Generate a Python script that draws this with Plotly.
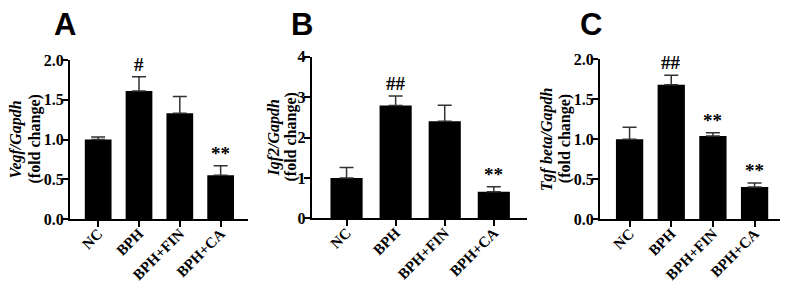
import plotly.graph_objects as go

categories = ["NC", "BPH", "BPH+FIN", "BPH+CA"]

vegf_mean = [1.00, 1.61, 1.33, 0.55]
vegf_err = [0.03, 0.18, 0.21, 0.12]
vegf_marks = ["", "#", "", "**"]

igf2_mean = [1.00, 2.79, 2.40, 0.66]
igf2_err = [0.26, 0.24, 0.40, 0.12]
igf2_marks = ["", "##", "", "**"]

tgfb_mean = [1.00, 1.68, 1.04, 0.40]
tgfb_err = [0.15, 0.12, 0.04, 0.05]
tgfb_marks = ["", "##", "**", "**"]

panels = [
    dict(letter="A", mean=vegf_mean, err=vegf_err, marks=vegf_marks,
         gene="Vegf/Gapdh",
         yrange=[0, 2.0], tickvals=[0, 0.5, 1.0, 1.5, 2.0],
         ticktext=["0.0", "0.5", "1.0", "1.5", "2.0"],
         xdom=[70/790, 248/790], ydom=[1-219/285, 1-60/285],
         xrange=[-0.69, 3.67], titlex=(15, 34), letterx=65),
    dict(letter="B", mean=igf2_mean, err=igf2_err, marks=igf2_marks,
         gene="Igf2/Gapdh",
         yrange=[0, 4], tickvals=[0, 1, 2, 3, 4],
         ticktext=["0", "1", "2", "3", "4"],
         xdom=[311.7/790, 526.7/790], ydom=[1-218.3/285, 1-56.7/285],
         xrange=[-0.71, 3.67], titlex=(273, 290), letterx=302),
    dict(letter="C", mean=tgfb_mean, err=tgfb_err, marks=tgfb_marks,
         gene="Tgf beta/Gapdh",
         yrange=[0, 2.0], tickvals=[0, 0.5, 1.0, 1.5, 2.0],
         ticktext=["0.0", "0.5", "1.0", "1.5", "2.0"],
         xdom=[600/790, 780/790], ydom=[1-219/285, 1-59.3/285],
         xrange=[-0.71, 3.61], titlex=(547, 565), letterx=591),
]

SERIF = "Liberation Serif"


def b(s):
    return "<b>" + s + "</b>"


fig = go.Figure()
annotations = []
layout = {}
for i, p in enumerate(panels):
    n = "" if i == 0 else str(i + 1)
    xa, ya = "x" + n, "y" + n
    fig.add_trace(go.Bar(
        x=categories, y=p["mean"], xaxis=xa, yaxis=ya,
        marker=dict(color="black", line=dict(width=0)),
        error_y=dict(type="data", array=p["err"], symmetric=False,
                     arrayminus=[0] * len(p["err"]), color="#333",
                     thickness=1.5, width=7),
        showlegend=False, hoverinfo="skip"))
    layout["xaxis" + n] = dict(
        domain=p["xdom"], anchor=ya, range=p["xrange"], type="category",
        tickvals=categories, ticktext=[b(c) for c in categories],
        showline=True, linecolor="black", linewidth=2, ticks="outside",
        ticklen=6, tickwidth=2, tickcolor="black", tickangle=-45,
        ticklabelstandoff=-8,
        tickfont=dict(family=SERIF, size=15, color="black"),
        showgrid=False, zeroline=False, automargin=False, fixedrange=True)
    layout["yaxis" + n] = dict(
        domain=p["ydom"], anchor=xa, range=p["yrange"],
        tickvals=p["tickvals"], ticktext=[b(t) for t in p["ticktext"]],
        showline=True, linecolor="black", linewidth=2, ticks="outside",
        ticklen=6, tickwidth=2, tickcolor="black", ticklabelstandoff=-5,
        tickfont=dict(family=SERIF, size=16, color="black"),
        showgrid=False, zeroline=False, automargin=False, fixedrange=True)
    for c, m, e, s in zip(categories, p["mean"], p["err"], p["marks"]):
        if s:
            annotations.append(dict(
                x=c, y=m + e, xref=xa, yref=ya, text=b(s), showarrow=False,
                yanchor="bottom", yshift=0,
                font=dict(family=SERIF, size=19, color="black")))
    ymid = (p["ydom"][0] + p["ydom"][1]) / 2
    annotations.append(dict(
        x=p["titlex"][0] / 790, y=ymid, xref="paper", yref="paper",
        text="<b><i>" + p["gene"] + "</i></b>", textangle=-90,
        showarrow=False, xanchor="center", yanchor="middle",
        font=dict(family=SERIF, size=16, color="black")))
    annotations.append(dict(
        x=p["titlex"][1] / 790, y=ymid, xref="paper", yref="paper",
        text=b("(fold change)"), textangle=-90,
        showarrow=False, xanchor="center", yanchor="middle",
        font=dict(family=SERIF, size=16, color="black")))
    annotations.append(dict(
        x=p["letterx"] / 790, y=1 - 24 / 285, xref="paper", yref="paper",
        text=b(p["letter"]), showarrow=False, xanchor="center", yanchor="middle",
        font=dict(family="Liberation Sans", size=31, color="black")))

fig.update_layout(
    width=790, height=285, margin=dict(l=0, r=0, t=0, b=0),
    paper_bgcolor="white", plot_bgcolor="white", bargap=0.345,
    annotations=annotations, **layout)

fig.write_html("out.html")
